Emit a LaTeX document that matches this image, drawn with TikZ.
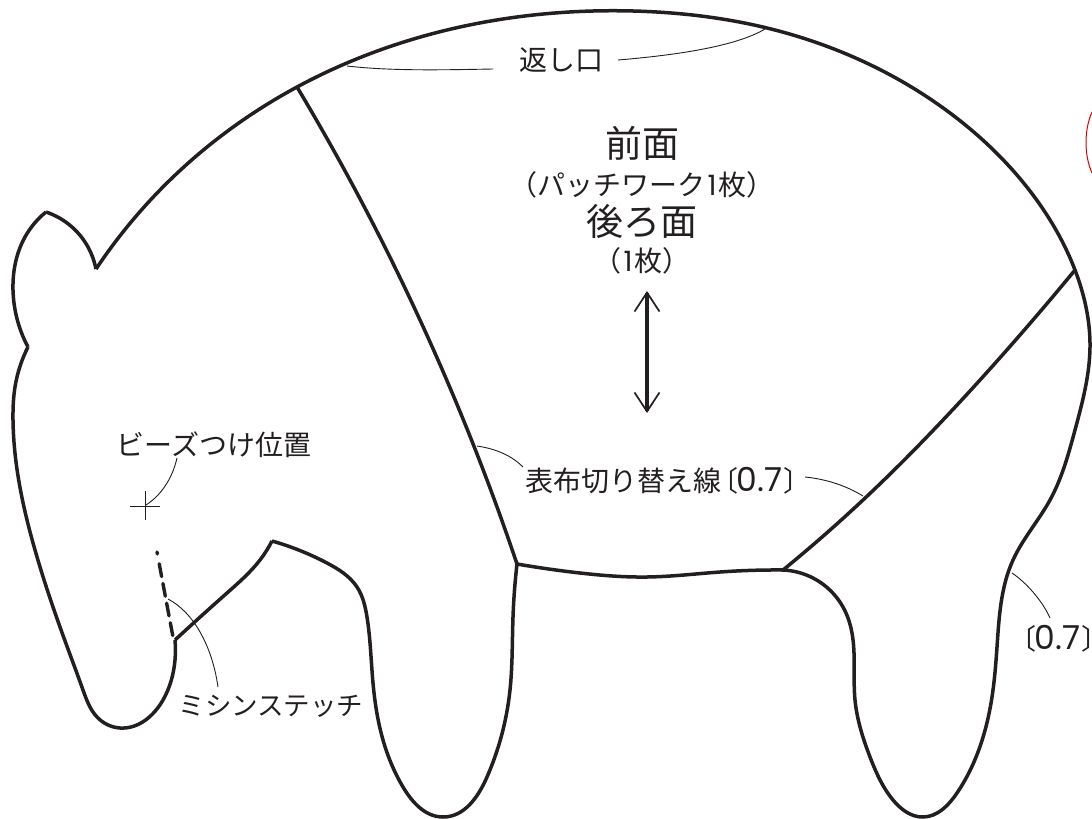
\documentclass[tikz,border=0pt]{standalone}
\usepackage{fontspec}
\setmainfont{Noto Sans CJK JP}
\newfontfamily\wide{Poppins}
\usetikzlibrary{arrows.meta,hobby}
\definecolor{ink}{RGB}{35,31,32}
\newcommand{\zeroseven}{\hspace{-0.4em}〔\hspace{-0.05em}{\wide\fontsize{33}{34}\selectfont 0.7}\hspace{0.05em}〕\hspace{-1.1em}}
\newcommand{\onedigit}{\hspace{0.06em}{\wide 1}\hspace{0.06em}}
\tikzset{
  x=1pt,y=-1pt,
  heavy/.style={draw=ink,line width=3.5pt,line join=round,use Hobby shortcut},
  leader/.style={draw=ink,line width=0.9pt},
  lab/.style={inner sep=0pt,text=ink,font=\fontsize{28}{30}\selectfont},
  labs/.style={inner sep=0pt,text=ink,font=\fontsize{26.5}{30}\selectfont},
  big/.style={inner sep=0pt,text=ink,font=\fontsize{37}{40}\selectfont},
}
\begin{document}
\begin{tikzpicture}
\useasboundingbox (0,0) rectangle (1092,819);
% outline, one smooth run between each pair of cusps
\draw[heavy] (96,269) .. (170,180) .. (297,87) .. (447,30) .. (633,11) .. (767,28) .. (950,113) .. (1033,195) .. (1075,270) .. (1090,347) .. (1075,430) .. (1050,500) .. (1013,560) .. (997,647) .. (992,697) .. (957,793) .. (923,817) .. (893,800) .. (870,757) .. (855,700) .. (852,633) .. (843,607) .. (813,578) .. (783,570);
\draw[heavy] (783,570) .. (720,572) .. (647,577) .. (580,573) .. (517,564);
\draw[heavy] (517,564) .. (513,617) .. (510,690) .. (487,777) .. (443,817) .. (403,787) .. (383,740) .. (373,683) .. (367,617) .. (357,587) .. (327,563) .. (272,541);
\draw[heavy] (272,541) .. (260,560) .. (227,593) .. (175,640);
\draw[heavy] (175,640) .. (175,660) .. (163,700) .. (120,728) .. (97,717) .. (83,690) .. (60,627) .. (35,550) .. (13,420) .. (15,387) .. (28,347);
\draw[heavy] (28,347) .. (13,290) .. (25,237) .. (46,212);
\draw[heavy] (46,212) .. (72,227) .. (88,247) .. (96,269);
% dividers
\draw[heavy] (297,87) .. (420,320) .. (517,564);
\draw[heavy] (1075,270) .. (980,380) .. (863,500) .. (783,570);
% stitching
\coordinate (stA) at (157,552);
\coordinate (stB) at (173,637);
\draw[draw=ink,line width=3.4pt,line cap=round,dash pattern=on 2pt off 10pt on 13pt off 7pt on 13pt off 7pt on 13pt off 7pt on 13pt off 7pt] (stA) -- (stB);
% cross
\coordinate (crL) at (130,506);
\coordinate (crR) at (160,506);
\coordinate (crT) at (145,491);
\coordinate (crB) at (145,520);
\draw[leader] (crL) -- (crR);
\draw[leader] (crT) -- (crB);
% grain arrow
\coordinate (arT) at (647,291);
\coordinate (arB) at (647,413);
\draw[draw=ink,line width=3.2pt,{Straight Barb[length=19pt,width=25pt,line width=1.7pt]}-{Straight Barb[length=19pt,width=25pt,line width=1.7pt]}] (arT) -- (arB);
% red arc at the edge
\coordinate (rdA) at (1092,112);
\coordinate (rdB) at (1092,173);
\draw[draw=red!85!black,line width=1pt] (rdA) .. controls (1084,130) and (1084,155) .. (rdB);
% labels
\node[lab] (kaeshi) at (561,60) {返し口};
\node[big] (mae) at (642,143) {前面};
\node[lab] (patch) at (642,185) {（パッチワーク\onedigit 枚）};
\node[big] (ushiro) at (642,221) {後ろ面};
\node[lab] (ichi) at (642,261) {（\onedigit 枚）};
\node[lab] (beads) at (214,445) {ビーズつけ位置};
\node[labs] (mishin) at (271,706) {ミシンステッチ};
\node[lab,anchor=west] (omote) at (525,481) {表布切り替え線\zeroseven};
\node[lab,anchor=west] (seam) at (1019,639) {\zeroseven};
% leaders
\coordinate (k1) at (347,66);
\coordinate (k2) at (493,69);
\coordinate (k3) at (618,60);
\coordinate (k4) at (765,29);
\draw[leader] (k1) .. controls (390,71) and (440,70) .. (k2);
\draw[leader] (k3) .. controls (690,54) and (740,44) .. (k4);
\coordinate (b1) at (177,458);
\coordinate (b2) at (146,505);
\draw[leader] (b1) .. controls (172,480) and (160,496) .. (b2);
\coordinate (m1) at (168,599);
\coordinate (m2) at (218,687);
\draw[leader] (m1) .. controls (193,612) and (212,645) .. (m2);
\coordinate (o1) at (477,446);
\coordinate (o2) at (523,467);
\coordinate (o3) at (805,477);
\coordinate (o4) at (863,496);
\draw[leader] (o1) .. controls (497,449) and (512,456) .. (o2);
\draw[leader] (o3) .. controls (825,479) and (845,485) .. (o4);
\coordinate (s1) at (1012,573);
\coordinate (s2) at (1050,618);
\draw[leader] (s1) .. controls (1027,583) and (1043,602) .. (s2);
\end{tikzpicture}
\end{document}
